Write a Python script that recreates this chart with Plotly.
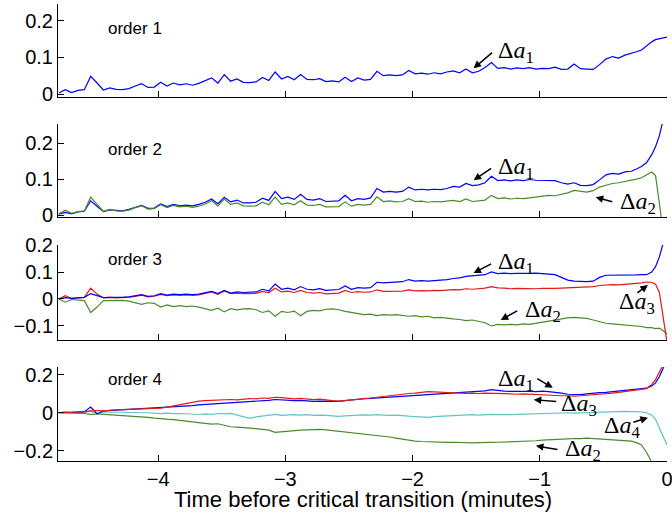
import plotly.graph_objects as go

# time grid (minutes before critical transition)
time_min = [round(-4.78 + 0.05 * i, 2) for i in range(91)] + [
    -0.24, -0.20, -0.16, -0.12, -0.09, -0.06, -0.04, -0.02, -0.01, 0.0]

# ---- order 1 ----
o1_a1 = [0.003, 0.012, 0.004, 0.010, 0.012, 0.048, 0.030, 0.011, 0.017, 0.013,
         0.012, 0.015, 0.022, 0.028, 0.018, 0.019, 0.032, 0.022, 0.030, 0.025,
         0.028, 0.024, 0.029, 0.036, 0.044, 0.030, 0.053, 0.035, 0.041, 0.032,
         0.031, 0.033, 0.045, 0.037, 0.060, 0.041, 0.048, 0.039, 0.053, 0.040,
         0.039, 0.042, 0.034, 0.036, 0.033, 0.046, 0.034, 0.044, 0.038, 0.040,
         0.062, 0.050, 0.052, 0.050, 0.052, 0.064, 0.055, 0.057, 0.054, 0.058,
         0.055, 0.060, 0.063, 0.058, 0.068, 0.058, 0.062, 0.072, 0.086, 0.070,
         0.072, 0.068, 0.071, 0.069, 0.072, 0.068, 0.070, 0.069, 0.073, 0.067,
         0.068, 0.082, 0.069, 0.068, 0.067, 0.080, 0.095, 0.102, 0.098, 0.106,
         0.110, 0.115, 0.120, 0.132, 0.142, 0.148, 0.150, 0.152, 0.153, 0.154,
         0.155]

# ---- order 2 ----
o2_a1 = [0.003, 0.008, 0.004, 0.009, 0.011, 0.040, 0.025, 0.010, 0.015, 0.013,
         0.012, 0.016, 0.022, 0.027, 0.019, 0.020, 0.031, 0.024, 0.030, 0.026,
         0.028, 0.026, 0.030, 0.036, 0.045, 0.032, 0.050, 0.037, 0.042, 0.034,
         0.034, 0.036, 0.047, 0.041, 0.066, 0.046, 0.050, 0.044, 0.058, 0.044,
         0.042, 0.046, 0.038, 0.038, 0.040, 0.055, 0.040, 0.046, 0.044, 0.048,
         0.074, 0.064, 0.066, 0.064, 0.066, 0.078, 0.070, 0.072, 0.070, 0.072,
         0.071, 0.074, 0.080, 0.078, 0.088, 0.082, 0.084, 0.090, 0.108, 0.096,
         0.098, 0.095, 0.098, 0.096, 0.099, 0.097, 0.097, 0.095, 0.096, 0.090,
         0.086, 0.090, 0.083, 0.082, 0.085, 0.098, 0.112, 0.116, 0.114, 0.120,
         0.122, 0.128, 0.135, 0.146, 0.168, 0.190, 0.220, 0.250, 0.275, 0.290,
         0.300]
o2_a2 = [0.004, 0.014, 0.005, 0.010, 0.012, 0.050, 0.030, 0.011, 0.016, 0.012,
         0.011, 0.014, 0.021, 0.026, 0.017, 0.018, 0.029, 0.021, 0.027, 0.023,
         0.025, 0.022, 0.025, 0.031, 0.040, 0.026, 0.045, 0.030, 0.034, 0.026,
         0.025, 0.026, 0.036, 0.029, 0.050, 0.030, 0.034, 0.029, 0.040, 0.028,
         0.027, 0.030, 0.023, 0.023, 0.024, 0.037, 0.025, 0.030, 0.028, 0.030,
         0.051, 0.038, 0.040, 0.037, 0.038, 0.046, 0.038, 0.039, 0.036, 0.038,
         0.037, 0.039, 0.041, 0.038, 0.045, 0.038, 0.040, 0.042, 0.055, 0.046,
         0.048, 0.045, 0.047, 0.046, 0.048, 0.050, 0.053, 0.055, 0.054, 0.058,
         0.062, 0.069, 0.066, 0.064, 0.068, 0.078, 0.083, 0.088, 0.090, 0.093,
         0.096, 0.100, 0.104, 0.112, 0.120, 0.110, 0.030, -0.040, -0.080, -0.100,
         -0.120]

# ---- order 3 ----
o3_a1 = [0.000, 0.005, 0.002, 0.004, 0.006, 0.020, 0.012, 0.005, 0.006, 0.005,
         0.006, 0.008, 0.012, 0.016, 0.010, 0.012, 0.020, 0.014, 0.018, 0.016,
         0.018, 0.016, 0.018, 0.022, 0.028, 0.020, 0.032, 0.022, 0.026, 0.024,
         0.024, 0.026, 0.036, 0.030, 0.055, 0.036, 0.040, 0.034, 0.046, 0.036,
         0.034, 0.038, 0.032, 0.033, 0.035, 0.048, 0.036, 0.042, 0.040, 0.042,
         0.062, 0.060, 0.062, 0.062, 0.064, 0.072, 0.066, 0.068, 0.066, 0.068,
         0.069, 0.072, 0.076, 0.078, 0.084, 0.086, 0.088, 0.090, 0.100, 0.094,
         0.096, 0.094, 0.095, 0.094, 0.095, 0.096, 0.094, 0.092, 0.090, 0.080,
         0.070, 0.066, 0.064, 0.064, 0.066, 0.080, 0.088, 0.088, 0.087, 0.089,
         0.088, 0.089, 0.090, 0.090, 0.100, 0.120, 0.155, 0.190, 0.220, 0.240,
         0.260]
o3_a2 = [0.000, -0.012, -0.002, -0.005, -0.006, -0.050, -0.030, -0.006, -0.005, -0.004,
         -0.005, -0.008, -0.015, -0.020, -0.014, -0.016, -0.030, -0.022, -0.028, -0.025,
         -0.028, -0.026, -0.030, -0.036, -0.042, -0.034, -0.048, -0.036, -0.040, -0.037,
         -0.036, -0.040, -0.050, -0.044, -0.064, -0.046, -0.050, -0.045, -0.062, -0.046,
         -0.042, -0.044, -0.038, -0.037, -0.040, -0.046, -0.050, -0.055, -0.058, -0.056,
         -0.062, -0.058, -0.060, -0.058, -0.062, -0.064, -0.062, -0.066, -0.064, -0.070,
         -0.068, -0.072, -0.074, -0.076, -0.080, -0.078, -0.082, -0.088, -0.100, -0.094,
         -0.096, -0.094, -0.096, -0.092, -0.094, -0.090, -0.086, -0.082, -0.076, -0.072,
         -0.070, -0.068, -0.070, -0.072, -0.078, -0.084, -0.090, -0.092, -0.094, -0.096,
         -0.098, -0.100, -0.102, -0.106, -0.106, -0.110, -0.108, -0.114, -0.120, -0.125,
         -0.130]
o3_a3 = [0.000, 0.012, 0.002, 0.005, 0.006, 0.040, 0.018, 0.004, 0.006, 0.004,
         0.005, 0.007, 0.010, 0.014, 0.008, 0.010, 0.017, 0.012, 0.015, 0.013,
         0.015, 0.013, 0.015, 0.020, 0.026, 0.017, 0.030, 0.020, 0.022, 0.020,
         0.020, 0.021, 0.028, 0.024, 0.040, 0.026, 0.029, 0.024, 0.032, 0.024,
         0.022, 0.024, 0.019, 0.020, 0.022, 0.032, 0.024, 0.027, 0.025, 0.026,
         0.034, 0.028, 0.029, 0.028, 0.029, 0.034, 0.030, 0.031, 0.030, 0.032,
         0.031, 0.033, 0.035, 0.034, 0.038, 0.036, 0.038, 0.040, 0.046, 0.041,
         0.040, 0.038, 0.039, 0.038, 0.039, 0.038, 0.039, 0.038, 0.039, 0.040,
         0.041, 0.042, 0.042, 0.044, 0.046, 0.050, 0.052, 0.053, 0.052, 0.055,
         0.056, 0.058, 0.060, 0.063, 0.062, 0.055, 0.025, -0.040, -0.090, -0.130,
         -0.160]

# ---- order 4 ----
o4_a1 = [0.000, 0.004, 0.002, 0.004, 0.006, 0.030, -0.005, 0.010, 0.012, 0.014,
         0.015, 0.016, 0.018, 0.020, 0.022, 0.024, 0.025, 0.028, 0.030, 0.034,
         0.036, 0.038, 0.042, 0.044, 0.046, 0.048, 0.050, 0.052, 0.054, 0.055,
         0.058, 0.060, 0.064, 0.066, 0.070, 0.068, 0.066, 0.064, 0.066, 0.062,
         0.060, 0.062, 0.060, 0.058, 0.060, 0.064, 0.068, 0.070, 0.074, 0.076,
         0.078, 0.080, 0.084, 0.086, 0.088, 0.090, 0.092, 0.094, 0.095, 0.098,
         0.100, 0.102, 0.104, 0.106, 0.108, 0.110, 0.112, 0.116, 0.122, 0.116,
         0.114, 0.113, 0.114, 0.112, 0.113, 0.112, 0.114, 0.112, 0.110, 0.104,
         0.098, 0.095, 0.096, 0.100, 0.104, 0.106, 0.108, 0.112, 0.116, 0.120,
         0.122, 0.124, 0.127, 0.130, 0.142, 0.158, 0.190, 0.220, 0.250, 0.270,
         0.280]
o4_a2 = [0.000, -0.002, -0.001, -0.003, -0.004, -0.008, -0.006, -0.008, -0.010, -0.012,
         -0.014, -0.016, -0.018, -0.020, -0.024, -0.028, -0.032, -0.034, -0.036, -0.040,
         -0.044, -0.046, -0.052, -0.056, -0.060, -0.058, -0.066, -0.074, -0.076, -0.078,
         -0.080, -0.084, -0.088, -0.092, -0.104, -0.100, -0.096, -0.094, -0.092, -0.090,
         -0.088, -0.088, -0.090, -0.094, -0.098, -0.100, -0.104, -0.108, -0.112, -0.116,
         -0.118, -0.122, -0.128, -0.134, -0.140, -0.146, -0.150, -0.152, -0.154, -0.156,
         -0.155, -0.157, -0.156, -0.158, -0.157, -0.159, -0.158, -0.156, -0.157, -0.156,
         -0.155, -0.156, -0.154, -0.152, -0.150, -0.148, -0.145, -0.144, -0.143, -0.142,
         -0.138, -0.136, -0.137, -0.134, -0.136, -0.138, -0.140, -0.144, -0.146, -0.148,
         -0.150, -0.158, -0.170, -0.210, -0.265, -0.300, -0.320, -0.330, -0.340, -0.350,
         -0.360]
o4_a3 = [0.000, 0.003, 0.002, 0.004, 0.005, 0.010, 0.012, 0.010, 0.014, 0.016,
         0.017, 0.018, 0.020, 0.022, 0.022, 0.024, 0.025, 0.030, 0.036, 0.045,
         0.050, 0.056, 0.062, 0.064, 0.066, 0.065, 0.068, 0.070, 0.068, 0.072,
         0.075, 0.074, 0.078, 0.076, 0.082, 0.080, 0.078, 0.074, 0.076, 0.072,
         0.070, 0.072, 0.066, 0.064, 0.062, 0.066, 0.070, 0.072, 0.075, 0.078,
         0.082, 0.086, 0.090, 0.096, 0.098, 0.102, 0.104, 0.108, 0.112, 0.110,
         0.108, 0.106, 0.104, 0.104, 0.102, 0.104, 0.102, 0.104, 0.102, 0.100,
         0.101, 0.100, 0.098, 0.100, 0.098, 0.097, 0.096, 0.094, 0.092, 0.090,
         0.090, 0.088, 0.090, 0.092, 0.094, 0.098, 0.102, 0.104, 0.108, 0.112,
         0.116, 0.118, 0.122, 0.128, 0.150, 0.175, 0.215, 0.245, 0.270, 0.280,
         0.290]
o4_a4 = [0.000, 0.002, 0.001, 0.000, 0.002, 0.010, -0.008, 0.004, 0.004, 0.003,
         0.002, 0.003, 0.000, 0.002, 0.000, -0.002, -0.004, -0.002, -0.005, -0.004,
         -0.006, -0.008, -0.009, -0.006, -0.008, -0.004, -0.006, -0.003, -0.012, -0.024,
         -0.030, -0.022, -0.018, -0.014, -0.008, -0.014, -0.012, -0.010, -0.012, -0.010,
         -0.014, -0.012, -0.014, -0.016, -0.019, -0.016, -0.014, -0.012, -0.011, -0.012,
         -0.010, -0.012, -0.014, -0.012, -0.016, -0.018, -0.020, -0.022, -0.024, -0.020,
         -0.018, -0.016, -0.014, -0.012, -0.011, -0.010, -0.012, -0.010, -0.008, -0.010,
         -0.011, -0.010, -0.008, -0.007, -0.006, -0.004, -0.003, -0.002, 0.000, 0.002,
         0.000, -0.002, -0.001, 0.000, 0.002, 0.004, 0.006, 0.007, 0.006, 0.007,
         0.006, 0.006, 0.005, 0.000, -0.012, -0.035, -0.080, -0.110, -0.140, -0.155,
         -0.170]

x_ticks = [-4, -3, -2, -1, 0]
x_tick_labels = ["\u22124", "\u22123", "\u22122", "\u22121", "0"]
x_title = "Time before critical transition (minutes)"
panel_titles = ["order 1", "order 2", "order 3", "order 4"]
y_ticks = [[0, 0.1, 0.2], [0, 0.1, 0.2], [-0.1, 0, 0.1, 0.2], [-0.2, 0, 0.2]]
y_tick_labels = [["0", "0.1", "0.2"], ["0", "0.1", "0.2"],
                 ["\u22120.1", "0", "0.1", "0.2"], ["\u22120.2", "0", "0.2"]]

BLUE = "#0000ff"
GREEN = "#4b8a2b"
RED = "#e31a1a"
CYAN = "#62c4c4"

panels = [
    [(o1_a1, BLUE)],
    [(o2_a1, BLUE), (o2_a2, GREEN)],
    [(o3_a2, GREEN), (o3_a3, RED), (o3_a1, BLUE)],
    [(o4_a2, GREEN), (o4_a4, CYAN), (o4_a1, BLUE), (o4_a3, RED)],
]
y_ranges = [[-0.008, 0.245], [-0.005, 0.253], [-0.152, 0.2], [-0.255, 0.242]]
y_domains = [[0.7965, 1.0], [0.5339, 0.7374], [0.2648, 0.4726], [0.0, 0.2057]]

fig = go.Figure()
for p, series in enumerate(panels):
    sx = "" if p == 0 else str(p + 1)
    for vals, col in series:
        fig.add_trace(go.Scatter(x=time_min, y=vals, mode="lines",
                                 line=dict(color=col, width=1.2),
                                 xaxis="x" + sx, yaxis="y" + sx,
                                 showlegend=False, hoverinfo="skip"))

SANS = "Liberation Sans, Arial, sans-serif"
axis_font = dict(family=SANS, size=20, color="black")
layout = dict(width=672, height=514, margin=dict(l=58, r=5, t=4, b=53, autoexpand=False),
              paper_bgcolor="white", plot_bgcolor="white", showlegend=False,
              template="none")
for p in range(4):
    sx = "" if p == 0 else str(p + 1)
    xa = dict(domain=[0, 1], anchor="y" + sx, range=[-4.787, 0.0002],
              tickvals=x_ticks, ticktext=x_tick_labels, ticks="inside",
              ticklen=6, tickcolor="black", showline=True, linecolor="black",
              linewidth=1, showgrid=False, zeroline=False, automargin=False,
              showticklabels=(p == 3), tickfont=axis_font,
              ticklabeloverflow="allow")
    if p == 3:
        xa["ticklabelstandoff"] = 0
    ya = dict(domain=y_domains[p], anchor="x" + sx, range=y_ranges[p],
              tickvals=y_ticks[p], ticktext=y_tick_labels[p], ticks="inside",
              ticklen=6, tickcolor="black", showline=True, linecolor="black",
              linewidth=1, showgrid=False, zeroline=False, automargin=False,
              tickfont=axis_font, ticklabeloverflow="allow")
    layout["xaxis" + sx] = xa
    layout["yaxis" + sx] = ya

annotations = [dict(x=0.5, y=-0.0835, xref="paper", yref="paper", text=x_title,
                    showarrow=False, xanchor="center", yanchor="middle",
                    font=dict(family=SANS, size=22, color="black"))]

# panel labels
order_label_y = [0.178, 0.181, 0.148, 0.175]
for p in range(4):
    sx = "" if p == 0 else str(p + 1)
    annotations.append(dict(x=-4.41, y=order_label_y[p], xref="x" + sx, yref="y" + sx,
                            text=panel_titles[p], showarrow=False, xanchor="left",
                            yanchor="middle",
                            font=dict(family=SANS, size=17, color="black")))

# (panel, label, text x, text y, arrow tip x, arrow tip y, tail dx px, tail dy px)
labels = [
    (0, "1", -1.346, 0.114, -1.52, 0.070, 20, -17),
    (1, "1", -1.346, 0.131, -1.52, 0.097, 19, -13),
    (1, "2", -0.386, 0.033, -0.56, 0.050, 18, 5),
    (2, "1", -1.346, 0.133, -1.52, 0.096, 19, -10),
    (2, "2", -1.134, -0.044, -1.307, -0.078, 18, -10),
    (2, "3", -0.394, -0.015, -0.15, 0.052, -12, 9),
    (3, "1", -1.346, 0.175, -0.898, 0.132, -17, -10),
    (3, "3", -0.850, 0.042, -1.047, 0.069, 24, 2),
    (3, "4", -0.512, -0.074, -0.15, -0.026, -16, 5),
    (3, "2", -0.819, -0.196, -1.03, -0.175, 23, 4),
]
serif = dict(family="Liberation Serif, Times New Roman, serif", size=24, color="black")
for p, sub, tx, ty, ax_, ay_, dx, dy in labels:
    sx = "" if p == 0 else str(p + 1)
    annotations.append(dict(x=tx, y=ty, xref="x" + sx, yref="y" + sx,
                            text="\u0394<i>a</i><sub>" + sub + "</sub>",
                            showarrow=False, xanchor="left", yanchor="middle",
                            font=serif))
    annotations.append(dict(x=ax_, y=ay_, xref="x" + sx, yref="y" + sx,
                            text="", showarrow=True, ax=dx, ay=dy,
                            arrowhead=2, arrowsize=1, arrowwidth=1.5,
                            arrowcolor="black", standoff=0, startstandoff=0))
layout["annotations"] = annotations
fig.update_layout(**layout)
fig.write_html("out.html", config={"displayModeBar": False},
               post_script="document.body.style.margin='0';document.body.style.padding='0';")
